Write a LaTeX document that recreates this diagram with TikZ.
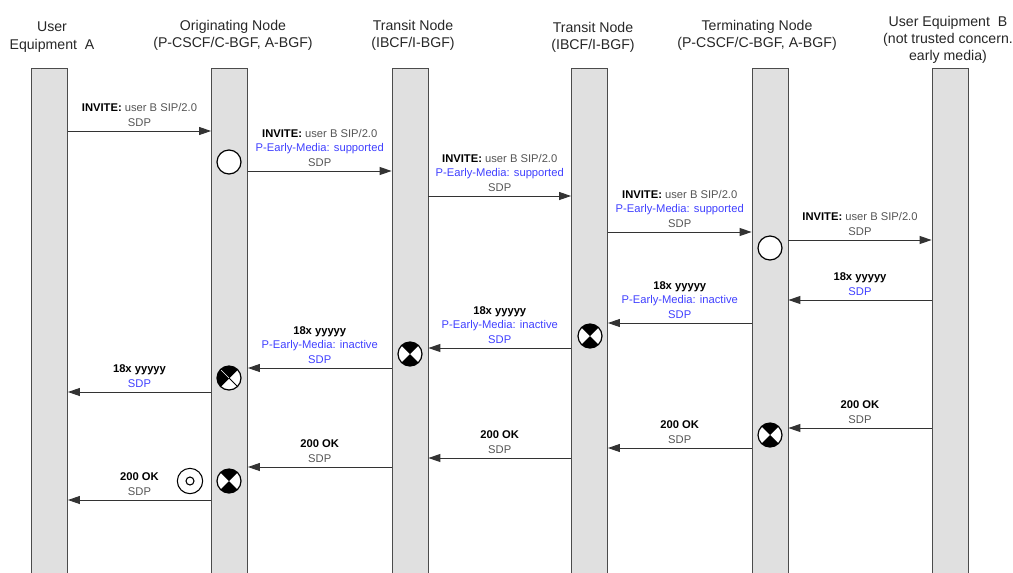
\documentclass[tikz,border=0pt]{standalone}
\usepackage{fontspec}
\setmainfont{Liberation Sans}
\usetikzlibrary{arrows.meta}

\definecolor{bargray}{RGB}{224,224,224}
\definecolor{pemblue}{RGB}{64,64,255}
\definecolor{txtgray}{RGB}{85,85,85}

\tikzset{
  lifeline/.style={draw=black!70, fill=bargray, line width=0.6pt, minimum width=27pt,
    minimum height=381pt, inner sep=0pt, anchor=north},
  head/.style={align=center, inner sep=0pt, anchor=north, text=black!85,
    font=\fontsize{10.6}{12.8}\selectfont},
  msg/.style={-{Triangle[length=9pt,width=6pt]}, line width=0.7pt, draw=black!80},
  lbl/.style={align=center, inner sep=1pt, above=2pt, text=txtgray,
    font=\fontsize{8.4}{11}\selectfont},
  idle/.pic={\draw[line width=0.9pt, fill=white] (0,0) circle[radius=9pt];},
  hold/.pic={
    \fill[white] (0,0) circle[radius=9pt];
    \fill (0,0) -- (45:9pt) arc[start angle=45, end angle=135, radius=9pt] -- cycle;
    \fill (0,0) -- (225:9pt) arc[start angle=225, end angle=315, radius=9pt] -- cycle;
    \draw[line width=0.9pt] (0,0) circle[radius=9pt];},
  holdleft/.pic={
    \fill[white] (0,0) circle[radius=9pt];
    \fill (0,0) -- (45:9pt) arc[start angle=45, end angle=225, radius=9pt] -- cycle;
    \draw[line width=0.7pt] (45:9pt) -- (225:9pt) (135:9pt) -- (315:9pt);
    \draw[white, line width=0.5pt] (0,0) -- (135:8.5pt);
    \draw[line width=0.9pt] (0,0) circle[radius=9pt];},
  target/.pic={
    \draw[line width=0.8pt] (0,0) circle[radius=9.5pt];
    \draw[line width=0.8pt] (0,0) circle[radius=3pt];}
}

\newcommand{\inv}{\textbf{\textcolor{black}{INVITE:}} user B SIP/2.0}
\newcommand{\prov}{\textbf{\textcolor{black}{18x yyyyy}}}
\newcommand{\okay}{\textbf{\textcolor{black}{200 OK}}}
\newcommand{\pem}[1]{\textcolor{pemblue}{P-Early-Media: #1}}

\begin{document}
\begin{tikzpicture}[x=0.75pt, y=-0.75pt]
\useasboundingbox (0,0) rectangle (1013,572);

% lifelines
\node[lifeline] (ueA)  at (49.5,68) {};
\node[lifeline] (orig) at (229.5,68) {};
\node[lifeline] (trA)  at (410,68) {};
\node[lifeline] (trB)  at (589.5,68) {};
\node[lifeline] (term) at (770,68) {};
\node[lifeline] (ueB)  at (950,68) {};

% headers
\node[head] (hueA)  at (52,22)  {User\\Equipment~ A};
\node[head] (horig) at (233,20) {Originating Node\\(P-CSCF/C-BGF, A-BGF)};
\node[head] (htrA)  at (413,20) {Transit Node\\(IBCF/I-BGF)};
\node[head] (htrB)  at (593,22) {Transit Node\\(IBCF/I-BGF)};
\node[head] (hterm) at (757,20) {Terminating Node\\(P-CSCF/C-BGF, A-BGF)};
\node[head] (hueB)  at (948,16) {User Equipment~ B\\(not trusted concern.\\early media)};

% INVITE
\draw[msg] (ueA.east |- 0,131) -- node[lbl] {\inv\\SDP} (orig.west |- 0,131);
\draw[msg] (orig.east |- 0,171) -- node[lbl] {\inv\\\pem{supported}\\SDP} (trA.west |- 0,171);
\draw[msg] (trA.east |- 0,196) -- node[lbl] {\inv\\\pem{supported}\\SDP} (trB.west |- 0,196);
\draw[msg] (trB.east |- 0,232) -- node[lbl] {\inv\\\pem{supported}\\SDP} (term.west |- 0,232);
\draw[msg] (term.east |- 0,240) -- node[lbl] {\inv\\SDP} (ueB.west |- 0,240);

% 18x
\draw[msg] (ueB.west |- 0,300) -- node[lbl] {\prov\\\textcolor{pemblue}{SDP}} (term.east |- 0,300);
\draw[msg] (term.west |- 0,323) -- node[lbl] {\prov\\\pem{inactive}\\\textcolor{pemblue}{SDP}} (trB.east |- 0,323);
\draw[msg] (trB.west |- 0,348) -- node[lbl] {\prov\\\pem{inactive}\\\textcolor{pemblue}{SDP}} (trA.east |- 0,348);
\draw[msg] (trA.west |- 0,368) -- node[lbl] {\prov\\\pem{inactive}\\\textcolor{pemblue}{SDP}} (orig.east |- 0,368);
\draw[msg] (orig.west |- 0,392) -- node[lbl] {\prov\\\textcolor{pemblue}{SDP}} (ueA.east |- 0,392);

% 200 OK
\draw[msg] (ueB.west |- 0,428) -- node[lbl] {\okay\\SDP} (term.east |- 0,428);
\draw[msg] (term.west |- 0,448) -- node[lbl] {\okay\\SDP} (trB.east |- 0,448);
\draw[msg] (trB.west |- 0,458) -- node[lbl] {\okay\\SDP} (trA.east |- 0,458);
\draw[msg] (trA.west |- 0,467) -- node[lbl] {\okay\\SDP} (orig.east |- 0,467);
\draw[msg] (orig.west |- 0,500) -- node[lbl] {\okay\\SDP} (ueA.east |- 0,500);

% media states
\pic at (229,162) {idle};
\pic at (770,248) {idle};
\pic at (590,336) {hold};
\pic at (410,354) {hold};
\pic at (229,378) {holdleft};
\pic at (770,435) {hold};
\pic at (229,481) {hold};
\pic at (190,481) {target};
\end{tikzpicture}
\end{document}
